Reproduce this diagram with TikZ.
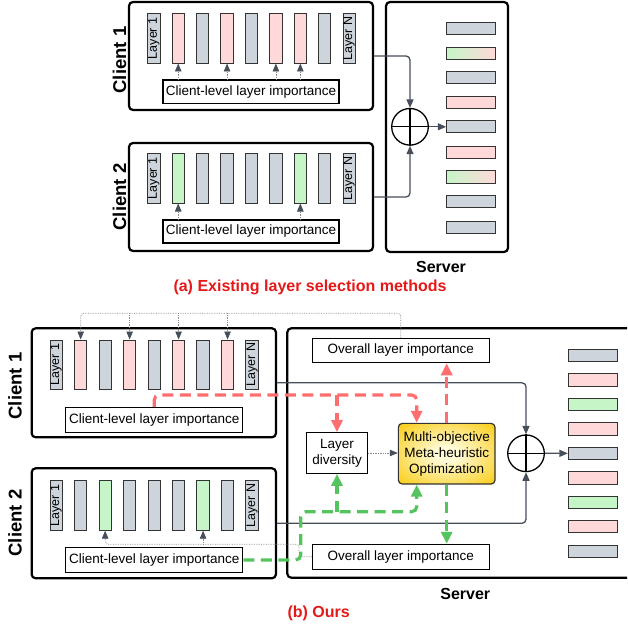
\documentclass[tikz,border=0pt]{standalone}
\usepackage{fontspec}
\setmainfont{Liberation Sans}
\usetikzlibrary{arrows.meta}

\definecolor{barg}{RGB}{206,212,219}
\definecolor{barp}{RGB}{255,217,217}
\definecolor{bargr}{RGB}{198,245,200}
\definecolor{barline}{RGB}{51,51,51}
\definecolor{conn}{RGB}{70,78,90}
\definecolor{dotc}{RGB}{140,140,140}
\definecolor{redd}{RGB}{255,110,110}
\definecolor{greend}{RGB}{85,196,95}
\definecolor{titlered}{RGB}{230,25,25}
\definecolor{gold}{RGB}{250,200,0}
\definecolor{goldlight}{RGB}{255,250,215}

\pgfdeclareradialshading{moshade}{\pgfpoint{0bp}{0bp}}{%
  color(0bp)=(goldlight); color(6bp)=(goldlight); color(38bp)=(gold); color(50bp)=(gold)}

\tikzset{
  bigbox/.style={draw=black, line width=2.2pt, rounded corners=4pt, minimum width=244pt, minimum height=108pt, inner sep=0pt},
  vbar/.style={draw=barline, line width=0.9pt, minimum width=12.3pt, minimum height=49.5pt, inner sep=0pt},
  hbar/.style={draw=barline, line width=0.9pt, minimum width=49pt, minimum height=12.3pt, inner sep=0pt},
  txtbox/.style={draw=black, line width=1.1pt, inner sep=0pt, font=\fontsize{13.5}{16}\selectfont, align=center},
  clientlbl/.style={font=\fontsize{18.5}{20}\selectfont\bfseries, rotate=90},
  lyrlbl/.style={font=\fontsize{12.5}{13}\selectfont, rotate=90, inner sep=0pt},
  serverlbl/.style={font=\fontsize{16}{18}\selectfont\bfseries},
  titlelbl/.style={font=\fontsize{16}{18}\selectfont\bfseries, text=titlered},
  conline/.style={draw=conn, line width=1.3pt, rounded corners=4pt},
  ctip/.style={-{Triangle[width=7pt,length=8.5pt,color=conn]}},
  dotline/.style={draw=dotc, line width=0.7pt, densely dotted, rounded corners=3pt},
  dtip/.style={-{Triangle[width=6.5pt,length=8pt,color=conn]}},
  reddash/.style={draw=redd, line width=3.2pt, dash pattern=on 11pt off 6.5pt, rounded corners=5pt},
  rtip/.style={-{Triangle[width=11pt,length=12pt,color=redd]}},
  greendash/.style={draw=greend, line width=3.2pt, dash pattern=on 11pt off 6.5pt, rounded corners=5pt},
  gtip/.style={-{Triangle[width=11pt,length=12pt,color=greend]}},
  plus/.style={circle, draw=black, line width=1.3pt, minimum size=36.6pt, inner sep=0pt},
}

\begin{document}
\begin{tikzpicture}[x=1pt,y=-1pt]
\useasboundingbox (0,0) rectangle (627,628);

% ================= (a) =================
\node[bigbox] (ac1) at (251,56) {};
\node[bigbox] (ac2) at (251,197) {};
\node[bigbox, minimum width=122pt, minimum height=250pt] (as) at (447,127) {};

\node[clientlbl] (ac1lbl) at (119.5,60) {Client 1};
\node[clientlbl] (ac2lbl) at (119.5,197) {Client 2};

\foreach \c [count=\i from 0] in {barg,barp,barg,barp,barg,barp,barp,barg,barg}
  \node[vbar, fill=\c] (ac1b\i) at (153.8+24.42*\i, 38.3) {};
\foreach \c [count=\i from 0] in {barg,bargr,barg,barg,barg,barg,bargr,barg,barg}
  \node[vbar, fill=\c] (ac2b\i) at (153.8+24.42*\i, 178.3) {};

\node[lyrlbl] (ac1l1) at (ac1b0) {Layer 1};
\node[lyrlbl] (ac1ln) at (ac1b8) {Layer N};
\node[lyrlbl] (ac2l1) at (ac2b0) {Layer 1};
\node[lyrlbl] (ac2ln) at (ac2b8) {Layer N};

\node[txtbox, minimum width=176pt, minimum height=23.3pt] (at1) at (251,91.7) {Client-level layer importance};
\node[txtbox, minimum width=176pt, minimum height=23pt] (at2) at (251,231.5) {Client-level layer importance};

\foreach \i in {1,3,5,6}
  \draw[dotline, dtip] (ac1b\i.south |- at1.north) -- (ac1b\i.south);
\foreach \i in {1,6}
  \draw[dotline, dtip] (ac2b\i.south |- at2.north) -- (ac2b\i.south);

% server bars (a)
\node[hbar, fill=barg] (asb1) at (471.2,28.8) {};
\node[hbar, left color=bargr, right color=barp] (asb2) at (471.2,53.5) {};
\node[hbar, fill=barg] (asb3) at (471.2,77.8) {};
\node[hbar, fill=barp] (asb4) at (471.2,102.5) {};
\node[hbar, fill=barg] (asb5) at (471.2,126.8) {};
\node[hbar, fill=barp] (asb6) at (471.2,152.5) {};
\node[hbar, left color=bargr, right color=barp] (asb7) at (471.2,177) {};
\node[hbar, fill=barg] (asb8) at (471.2,201.8) {};
\node[hbar, fill=barg] (asb9) at (471.2,227.2) {};

\node[plus] (pa) at (410,126.8) {};
\draw[line width=1.3pt] (pa.north) -- (pa.south) (pa.west) -- (pa.east);

\draw[conline, ctip] (ac1.east) -| (pa.north);
\draw[conline, ctip] (ac2.east) -| (pa.south);
\draw[conline, ctip] (pa.east) -- (asb5.west);

\node[serverlbl] (aserv) at (441,267) {Server};
\node[titlelbl] (atitle) at (310,287) {(a) Existing layer selection methods};

% ================= (b) =================
\node[bigbox, minimum width=244.3pt, minimum height=109pt] (bc1) at (153.8,382.8) {};
\node[bigbox, minimum width=244.3pt, minimum height=110pt] (bc2) at (153.8,523.3) {};
\begin{scope}
  \clip (0,0) rectangle (627,628);
  \draw[line width=2.2pt, rounded corners=4pt] (287.3,328.3) rectangle (645,577.7);
\end{scope}

\node[clientlbl] (bc1lbl) at (15,386) {Client 1};
\node[clientlbl] (bc2lbl) at (15,523) {Client 2};

\foreach \c [count=\i from 0] in {barg,barp,barg,barp,barg,barp,barg,barp,barg}
  \node[vbar, fill=\c] (bc1b\i) at (56.2+24.48*\i, 364.7) {};
\foreach \c [count=\i from 0] in {barg,barg,bargr,barg,barg,barg,bargr,barg,barg}
  \node[vbar, fill=\c] (bc2b\i) at (56.2+24.48*\i, 505.5) {};

\node[lyrlbl] (bc1l1) at (bc1b0) {Layer 1};
\node[lyrlbl] (bc1ln) at (bc1b8) {Layer N};
\node[lyrlbl] (bc2l1) at (bc2b0) {Layer 1};
\node[lyrlbl] (bc2ln) at (bc2b8) {Layer N};

\node[txtbox, minimum width=177pt, minimum height=25pt] (bt1) at (154.2,419.8) {Client-level layer importance};
\node[txtbox, minimum width=177pt, minimum height=24.6pt] (bt2) at (154.2,560) {Client-level layer importance};

\node[txtbox, minimum width=177pt, minimum height=24.4pt] (oi1) at (400.8,350.5) {Overall layer importance};
\node[txtbox, minimum width=177pt, minimum height=24.7pt] (oi2) at (400.8,556.7) {Overall layer importance};
\node[txtbox, minimum width=60.6pt, minimum height=40.6pt] (ld) at (337,453) {Layer\\diversity};
\node[txtbox, draw=barline, line width=1.2pt, rounded corners=4pt, shading=moshade,
      minimum width=96.7pt, minimum height=60.7pt] (mo) at (446.7,453.7) {Multi-objective\\Meta-heuristic\\Optimization};

% server bars (b)
\foreach \c [count=\i from 1] in {barg,barp,bargr,barp,barg,barp,bargr,barp,barg}
  \node[hbar, fill=\c] (bsb\i) at (592.8, 355.5+24.46*\i-24.46) {};

\node[plus] (pb) at (526,453.3) {};
\draw[line width=1.3pt] (pb.north) -- (pb.south) (pb.west) -- (pb.east);

\draw[conline, ctip] (bc1.east) -| (pb.north);
\draw[conline, ctip] (bc2.east) -| (pb.south);
\draw[conline, ctip] (pb.east) -- (bsb5.west);

% dotted connectors (b)
\coordinate (topy) at (0,313.3);
\draw[dotline, dtip] (oi1.north) -- (oi1.north |- topy) -| (bc1b1.north);
\foreach \i in {3,5,7}
  \draw[dotline, dtip] (bc1b\i.north |- topy) -- (bc1b\i.north);

\coordinate (botx) at (299,544.3);
\draw[dotline, dtip] (oi2.west) -| (botx) -| (bc2b2.south);
\draw[dotline, dtip] (bc2b6.south |- botx) -- (bc2b6.south);

\draw[dotline, dtip] (ld.east) -- (mo.west |- ld.east);

% red dashed
\coordinate (ry) at (0,395);
\coordinate (moL) at (416.7,0);
\draw[reddash, rtip] (bt1.north) |- (ry -| moL) -- (mo.north -| moL);
\draw[reddash, rtip] (ld.north |- ry) -- (ld.north);
\draw[reddash, rtip] (mo.north) -- (oi1.south -| mo.north);

% green dashed
\coordinate (gx) at (300.7,511.7);
\draw[greendash, gtip] (bt2.east) -| (gx) -- (gx -| moL) -- (mo.south -| moL);
\draw[greendash, gtip] (ld.south |- gx) -- (ld.south);
\draw[greendash, gtip] (mo.south) -- (oi2.north -| mo.south);

\node[serverlbl] (bserv) at (465.3,594) {Server};
\node[titlelbl] (btitle) at (318.7,613.3) {(b) Ours};
\end{tikzpicture}
\end{document}
